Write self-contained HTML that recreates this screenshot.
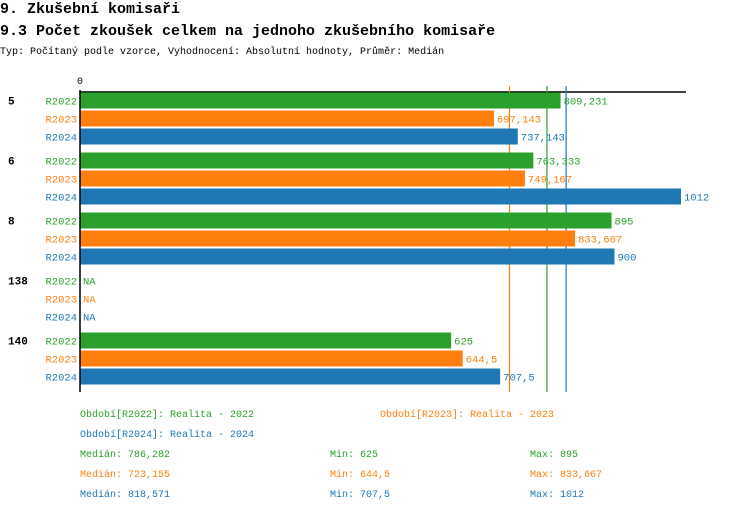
<!DOCTYPE html>
<html><head><meta charset="utf-8"><style>
body{margin:0;background:#fff;width:750px;height:512px;overflow:hidden;font-family:"Liberation Mono",monospace}
svg text{font-family:"Liberation Mono",monospace}
</style></head><body>
<svg id="c" width="750" height="512">
<text x="0" y="13" font-size="15" font-weight="bold">9. Zkušební komisaři</text>
<text x="0" y="35" font-size="15" font-weight="bold">9.3 Počet zkoušek celkem na jednoho zkušebního komisaře</text>
<text x="0" y="54" font-size="10">Typ: Počítaný podle vzorce, Vyhodnocení: Absolutní hodnoty, Průměr: Medián</text>
<g id="plot"></g>
<g id="foot" font-size="10"></g>
</svg>
<script>
const categories=["5","6","8","138","140"];
const seriesNames=["R2022","R2023","R2024"];
const s2022=[809.231,763.333,895,null,625];
const s2023=[697.143,749.167,833.667,null,644.5];
const s2024=[737.143,1012,900,null,707.5];
const medians=[786.282,723.155,818.571];
const mins=[625,644.5,707.5];
const maxs=[895,833.667,1012];
const colors=["#2ca02c","#ff7f0e","#1f77b4"];
const NS="http://www.w3.org/2000/svg";
const X0=80,scale=601/1012;
const x=v=>X0+v*scale;
const rowY=(g,s)=>92.5+g*60+s*18;
const fmt=v=>String(v).replace('.',',');
const plot=document.getElementById('plot');
function mk(tag,attrs,parent){const e=document.createElementNS(NS,tag);for(const k in attrs)e.setAttribute(k,attrs[k]);(parent||plot).appendChild(e);return e;}
const series=[s2022,s2023,s2024];
let t=mk('text',{x:X0,y:84,'font-size':10,'text-anchor':'middle'});t.textContent='0';


let l=mk('line',{x1:X0,y1:92,x2:686,y2:92,stroke:'#000','stroke-width':1.5});


medians.forEach((m,i)=>{
 let ml=mk('line',{x1:x(m),y1:86,x2:x(m),y2:392,stroke:colors[i],'stroke-width':1.2});
 
 
});
categories.forEach((c,g)=>{
 let ct=mk('text',{x:8,y:rowY(g,0)+12,'font-size':11,'font-weight':'bold'});ct.textContent=c;
 
 
 series.forEach((s,i)=>{
  const y=rowY(g,i);
  let lt=mk('text',{x:77,y:y+12,'font-size':10.5,'text-anchor':'end',fill:colors[i]});lt.textContent=seriesNames[i];
  
  
  const v=s[g];
  if(v!=null){
   let r=mk('rect',{x:X0,y:y,width:x(v)-X0,height:16,fill:colors[i]});
   
   
  }
  let vt=mk('text',{x:(v!=null?x(v):X0)+3,y:y+12,'font-size':10.5,fill:colors[i]});vt.textContent=v!=null?fmt(v):'NA';
  
  
 });
});
let ax=mk('line',{x1:X0,y1:90,x2:X0,y2:392,stroke:'#000','stroke-width':1.5});


const foot=document.getElementById('foot');
function ft(xp,yp,txt,col,name){let e=mk('text',{x:xp,y:yp,fill:col},foot);e.textContent=txt;
 
 }
ft(80,417,'Období[R2022]: Realita - 2022',colors[0],'legend-entry');
ft(380,417,'Období[R2023]: Realita - 2023',colors[1],'legend-entry');
ft(80,437,'Období[R2024]: Realita - 2024',colors[2],'legend-entry');
seriesNames.forEach((n,i)=>{
 const y=457+i*20;
 ft(80,y,'Medián: '+fmt(medians[i]),colors[i],'median-stat');
 ft(330,y,'Min: '+fmt(mins[i]),colors[i],'min-stat');
 ft(530,y,'Max: '+fmt(maxs[i]),colors[i],'max-stat');
});
</script>
</body></html>
